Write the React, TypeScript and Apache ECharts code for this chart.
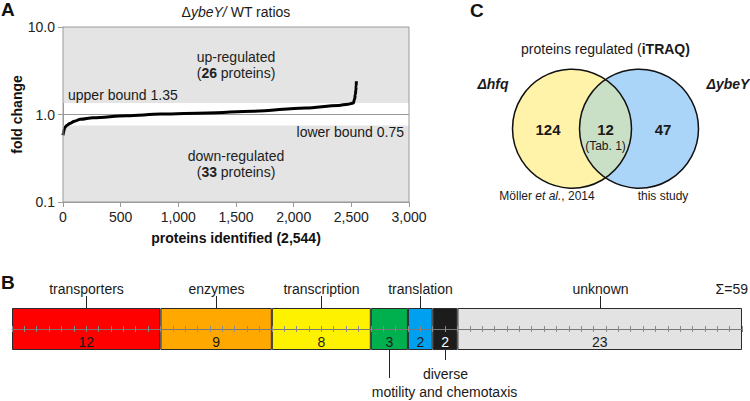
import React, { useEffect, useRef } from 'react';
import * as echarts from 'echarts';

// ---------- Panel A data ----------
const curveIndex = [0, 4, 10, 20, 33, 60, 100, 150, 260, 550, 850, 1250, 1650, 2100, 2390, 2470, 2518, 2528, 2535, 2539, 2542, 2544];
const curveFold = [0.58, 0.62, 0.67, 0.72, 0.75, 0.79, 0.84, 0.88, 0.92, 0.97, 1.01, 1.04, 1.09, 1.19, 1.27, 1.31, 1.35, 1.5, 1.7, 1.9, 2.1, 2.4];
const upperBound = 1.35;
const lowerBound = 0.75;
const upCount = 26;
const downCount = 33;
const xTicks = [0, 500, 1000, 1500, 2000, 2500, 3000];
const yTicks = [0.1, 1, 10];

// ---------- Panel B data ----------
const categories = ['transporters', 'enzymes', 'transcription', 'motility and chemotaxis', 'translation', 'diverse', 'unknown'];
const counts = [12, 9, 8, 3, 2, 2, 23];
const total = 59;

// ---------- Panel C data ----------
const vennLabels = ['Δhfq', 'ΔybeY'];
const vennOnlyLeft = 124;
const vennBoth = 12;
const vennOnlyRight = 47;

// ---------- styles ----------
const FONT = '"Liberation Sans", Arial, Helvetica, sans-serif';
const barColors = ['#ff0000', '#ffa800', '#fff200', '#00b04f', '#00a0f0', '#1c1c1c', '#e3e3e3'];
const barLabelColors = ['#1a1a1a', '#1a1a1a', '#1a1a1a', '#1a1a1a', '#1a1a1a', '#ffffff', '#1a1a1a'];
// side: 'top' or 'bottom'; len: leader length; dx: text offset from leader
const barLabelPlace = [
  { side: 'top', len: 12, dx: 0 },
  { side: 'top', len: 12, dx: 0 },
  { side: 'top', len: 12, dx: 0 },
  { side: 'bottom', len: 28, dx: 55 },
  { side: 'top', len: 12, dx: 0 },
  { side: 'bottom', len: 10, dx: 0 },
  { side: 'top', len: 12, dx: 0 },
];

const GA = { left: 63, top: 27, width: 346, height: 175 };
const GB = { left: 12, top: 308, width: 730, height: 42 };

const VENN = { cxL: 572, cxR: 639, cy: 128.7, r: 59.5 };

let lensRegistered = false;

export default function App() {
  const ref = useRef<HTMLDivElement>(null);

  useEffect(() => {
    if (!ref.current) return;
    // lens shape for the Venn intersection
    if (!lensRegistered) {
      const d2 = (VENN.cxR - VENN.cxL) / 2;
      const mx = (VENN.cxL + VENN.cxR) / 2;
      const h = Math.sqrt(VENN.r * VENN.r - d2 * d2);
      const y1 = VENN.cy - h;
      const y2 = VENN.cy + h;
      const d = `M ${mx} ${y1} A ${VENN.r} ${VENN.r} 0 0 1 ${mx} ${y2} A ${VENN.r} ${VENN.r} 0 0 1 ${mx} ${y1} Z`;
      echarts.graphic.registerShape('vennLens', echarts.graphic.extendPath(d, {}));
      lensRegistered = true;
    }

    const chart = echarts.init(ref.current, null, { renderer: 'svg' });

    const axisGray = '#9a9a9a';
    const lineData = curveIndex.map((x, i) => [x, curveFold[i]]);

    const option: any = {
      animation: false,
      textStyle: { fontFamily: FONT, color: '#1a1a1a' },
      grid: [
        { ...GA, show: true, borderColor: axisGray, borderWidth: 1, backgroundColor: 'transparent', z: 5 },
        { ...GB },
      ],
      xAxis: [
        {
          gridIndex: 0, type: 'value', min: xTicks[0], max: xTicks[xTicks.length - 1], interval: 500,
          axisLine: { show: true, lineStyle: { color: axisGray } },
          axisTick: { show: true, length: 5, lineStyle: { color: axisGray } },
          axisLabel: { fontSize: 14, color: '#222', margin: 8, fontFamily: FONT, formatter: (v: number) => v.toLocaleString('en-US') },
          splitLine: { show: false },
          name: 'proteins identified (2,544)', nameLocation: 'middle', nameGap: 29,
          nameTextStyle: { fontSize: 14, fontWeight: 'bold', color: '#111', fontFamily: FONT },
        },
        {
          gridIndex: 1, type: 'value', min: 0, max: total, interval: 1, position: 'bottom', offset: -GB.height / 2, z: 10,
          axisLine: { show: true, lineStyle: { color: '#777', width: 1 } },
          axisTick: { show: true, length: 3, lineStyle: { color: '#8a8a8a' } },
          axisLabel: { show: false }, splitLine: { show: false },
        },
        {
          gridIndex: 1, type: 'value', min: 0, max: total, interval: 1, position: 'bottom', offset: -GB.height / 2, z: 10,
          axisLine: { show: false },
          axisTick: { show: true, inside: true, length: 3, lineStyle: { color: '#8a8a8a' } },
          axisLabel: { show: false }, splitLine: { show: false },
        },
      ],
      yAxis: [
        {
          gridIndex: 0, type: 'log', logBase: 10, min: yTicks[0], max: yTicks[yTicks.length - 1],
          axisLine: { show: true, lineStyle: { color: axisGray } },
          axisTick: { show: true, length: 5, lineStyle: { color: axisGray } },
          axisLabel: { fontSize: 14, color: '#222', margin: 8, fontFamily: FONT, formatter: (v: number) => Number(v).toFixed(1) },
          splitLine: { show: true, lineStyle: { color: axisGray } },
          name: 'fold change', nameLocation: 'middle', nameGap: 37, nameRotate: 90,
          nameTextStyle: { fontSize: 14, fontWeight: 'bold', color: '#111', fontFamily: FONT },
        },
        { gridIndex: 1, type: 'category', data: ['all'], show: false },
      ],
      series: [
        {
          type: 'line', xAxisIndex: 0, yAxisIndex: 0, data: lineData,
          showSymbol: false, smooth: 0.35, smoothMonotone: 'x',
          lineStyle: { color: '#000', width: 3 }, z: 3,
          markArea: {
            silent: true,
            itemStyle: { color: '#e4e4e4' },
            label: { show: true, position: 'inside', fontSize: 14, color: '#222', lineHeight: 16, fontFamily: FONT },
            data: [
              [
                { xAxis: xTicks[0], yAxis: upperBound, label: { formatter: `up-regulated\n({b|${upCount}} proteins)`, rich: { b: { fontWeight: 'bold', fontSize: 14, color: '#222', fontFamily: FONT } } } },
                { xAxis: xTicks[xTicks.length - 1], yAxis: yTicks[yTicks.length - 1] },
              ],
              [
                { xAxis: xTicks[0], yAxis: yTicks[0], label: { formatter: `down-regulated\n({b|${downCount}} proteins)`, rich: { b: { fontWeight: 'bold', fontSize: 14, color: '#222', fontFamily: FONT } } } },
                { xAxis: xTicks[xTicks.length - 1], yAxis: lowerBound },
              ],
            ],
          },
        },
        ...categories.map((name, i) => ({
          type: 'bar', name, xAxisIndex: 1, yAxisIndex: 1, stack: 'total', barWidth: '100%',
          data: [counts[i]],
          itemStyle: { color: barColors[i], borderColor: '#2a2a2a', borderWidth: 1 },
          label: { show: true, position: 'insideBottom', distance: 1, fontSize: 14, color: barLabelColors[i], fontFamily: FONT, formatter: '{c}' },
        })),
      ],
    };

    chart.setOption(option);

    // ---------- graphics computed from the library's scales ----------
    const px = (v: number) => chart.convertToPixel({ xAxisIndex: 0 }, v) as number;
    const py = (v: number) => chart.convertToPixel({ yAxisIndex: 0 }, v) as number;
    const bx = (v: number) => chart.convertToPixel({ xAxisIndex: 1 }, v) as number;

    const txt = (x: number, y: number, text: string, extra: any = {}) => ({
      type: 'text', x, y, z: 100,
      style: { text, fill: '#1a1a1a', fontSize: 14, fontFamily: FONT, align: 'center', verticalAlign: 'middle', ...extra },
    });

    const gfx: any[] = [];
    // panel letters
    gfx.push(txt(1, 9, 'A', { fontSize: 19, fontWeight: 'bold', align: 'left', fill: '#111' }));
    gfx.push(txt(1, 282, 'B', { fontSize: 19, fontWeight: 'bold', align: 'left', fill: '#111' }));
    gfx.push(txt(470, 10, 'C', { fontSize: 19, fontWeight: 'bold', align: 'left', fill: '#111' }));

    // panel A annotations
    gfx.push(txt(px(1500), 12, '{n|Δ}{i|ybeY/}{n| WT ratios}', {
      rich: {
        n: { fontSize: 14, fontFamily: FONT, fill: '#1a1a1a' },
        i: { fontSize: 14, fontFamily: FONT, fontStyle: 'italic', fill: '#1a1a1a' },
      },
    }));
    gfx.push(txt(px(0) + 5, py(upperBound) - 8, `upper bound ${upperBound}`, { align: 'left' }));
    gfx.push(txt(px(3000) - 5, py(lowerBound) + 7, `lower bound ${lowerBound}`, { align: 'right' }));

    // panel B labels with leaders
    let cum = 0;
    const barTop = GB.top;
    const barBottom = GB.top + GB.height;
    categories.forEach((name, i) => {
      const mid = cum + counts[i] / 2;
      cum += counts[i];
      const x = Math.round(bx(mid)) + 0.5;
      const p = barLabelPlace[i];
      if (p.side === 'top') {
        gfx.push({ type: 'line', z: 100, shape: { x1: x, y1: barTop - p.len, x2: x, y2: barTop }, style: { stroke: '#222', lineWidth: 1 } });
        gfx.push(txt(x + p.dx, barTop - p.len - 7, name));
      } else {
        gfx.push({ type: 'line', z: 100, shape: { x1: x, y1: barBottom, x2: x, y2: barBottom + p.len }, style: { stroke: '#222', lineWidth: 1 } });
        gfx.push(txt(x + p.dx, barBottom + p.len + 14, name));
      }
    });
    gfx.push(txt(748, barTop - 19, `Σ=${total}`, { align: 'right' }));

    // panel C Venn
    gfx.push({ type: 'circle', z: 50, shape: { cx: VENN.cxL, cy: VENN.cy, r: VENN.r }, style: { fill: '#fff3aa' } });
    gfx.push({ type: 'circle', z: 50, shape: { cx: VENN.cxR, cy: VENN.cy, r: VENN.r }, style: { fill: '#aad5f8' } });
    gfx.push({ type: 'vennLens', z: 51, x: 0, y: 0, scaleX: 1, scaleY: 1, style: { fill: '#c9e0c6' } });
    gfx.push({ type: 'circle', z: 52, shape: { cx: VENN.cxL, cy: VENN.cy, r: VENN.r }, style: { fill: 'none', stroke: '#111', lineWidth: 1.5 } });
    gfx.push({ type: 'circle', z: 52, shape: { cx: VENN.cxR, cy: VENN.cy, r: VENN.r }, style: { fill: 'none', stroke: '#111', lineWidth: 1.5 } });

    const midX = (VENN.cxL + VENN.cxR) / 2;
    gfx.push(txt(midX, 49, 'proteins regulated ({b|iTRAQ)}', {
      rich: { b: { fontSize: 14, fontWeight: 'bold', fontFamily: FONT, fill: '#1a1a1a' } },
    }));
    gfx.push(txt(493, 84, vennLabels[0], { fontWeight: 'bold', fontStyle: 'italic' }));
    gfx.push(txt(728, 84, vennLabels[1], { fontWeight: 'bold', fontStyle: 'italic' }));
    gfx.push(txt(548, 129, String(vennOnlyLeft), { fontWeight: 'bold', fontSize: 15 }));
    gfx.push(txt(midX, 129, String(vennBoth), { fontWeight: 'bold', fontSize: 15 }));
    gfx.push(txt(midX, 146, '(Tab. 1)', { fontSize: 12 }));
    gfx.push(txt(663, 129, String(vennOnlyRight), { fontWeight: 'bold', fontSize: 15 }));
    gfx.push(txt(547, 196, '{n|Möller }{i|et al.}{n|, 2014}', {
      rich: {
        n: { fontSize: 12, fontFamily: FONT, fill: '#1a1a1a' },
        i: { fontSize: 12, fontFamily: FONT, fontStyle: 'italic', fill: '#1a1a1a' },
      },
    }));
    gfx.push(txt(663, 196, 'this study', { fontSize: 12 }));

    chart.setOption({ graphic: { elements: gfx } });

    return () => chart.dispose();
  }, []);

  return <div ref={ref} style={{ position: 'absolute', left: 0, top: 0, width: 750, height: 401, background: '#fff' }} />;
}
